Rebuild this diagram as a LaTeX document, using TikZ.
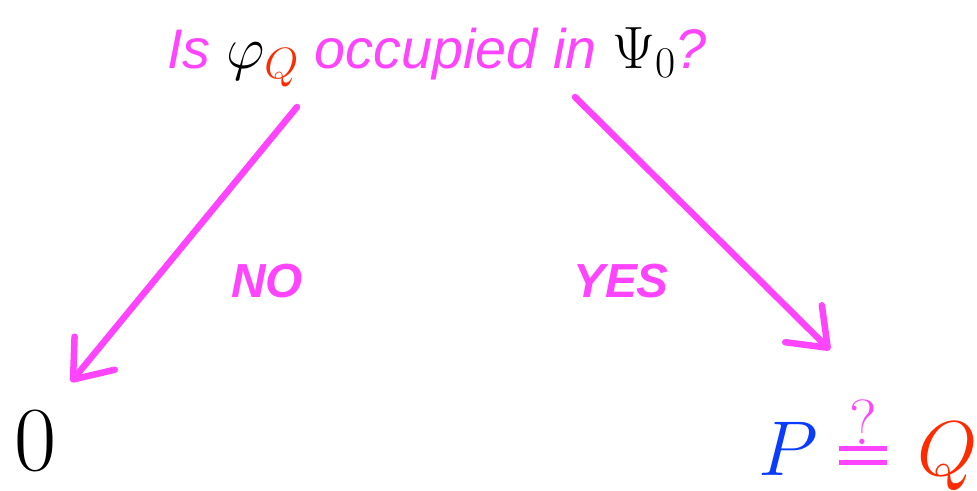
\RequirePackage{fix-cm}
\documentclass[tikz,border=0pt]{standalone}
\usepackage{fontspec}
\setsansfont{Liberation Sans}
\usepackage{tikz}
\usepackage{xcolor}
\usetikzlibrary{arrows.meta,positioning}

\definecolor{qpink}{RGB}{255,68,255}
\definecolor{qred}{RGB}{255,42,0}
\definecolor{qblue}{RGB}{10,60,255}
\DeclareMathSizes{56}{60}{44}{34}
% thick "equal?" sign
\newcommand{\qeq}{\mathrel{\mathop{\vcenter{\hrule width 48bp height 5bp
  \vskip 9bp \hrule width 48bp height 5bp}}\limits^{\hbox{\fontsize{64}{64}\selectfont ?}}}}

\begin{document}
\begin{tikzpicture}[
    x=1bp,y=-1bp,
    chalk/.style={draw=qpink,line width=6.5bp,line cap=round,
      -{Straight Barb[round,length=34bp,width=52bp]}},
    ask/.style={text=qpink,inner sep=0pt,font=\fontsize{56}{62}\selectfont\sffamily\itshape},
    answer/.style={text=qpink,inner sep=0pt,font=\fontsize{48}{54}\selectfont\sffamily\bfseries\itshape},
    result/.style={inner sep=0pt}]
  \useasboundingbox (0,0) rectangle (977,491);
  % ---- question on top ----
  \node[ask,anchor=base west] (quest) at (167,69)
    {Is {\color{black}$\varphi_{\color{qred}Q}$} occupied in {\color{black}$\Psi_0$}?};
  % ---- two outcomes ----
  \node[result,font=\fontsize{92}{100}\selectfont] (zero) at (36,441) {$0$};
  \node[result,anchor=base west,font=\fontsize{78}{86}\selectfont] (same) at (758,475)
    {$\color{qblue}P \color{qpink}\qeq\mkern2mu \color{qred}Q$};
  % ---- arrow ends ----
  \coordinate (noA)  at (297,107);
  \coordinate (noB)  at (71,382);
  \coordinate (yesA) at (575,97);
  \coordinate (yesB) at (830,350);
  \draw[chalk] (noA) -- (noB);
  \draw[chalk] (yesA) -- (yesB);
  \node[answer] (no)  at (267,281) {NO};
  \node[answer] (yes) at (621,281) {YES};
\end{tikzpicture}
\end{document}
